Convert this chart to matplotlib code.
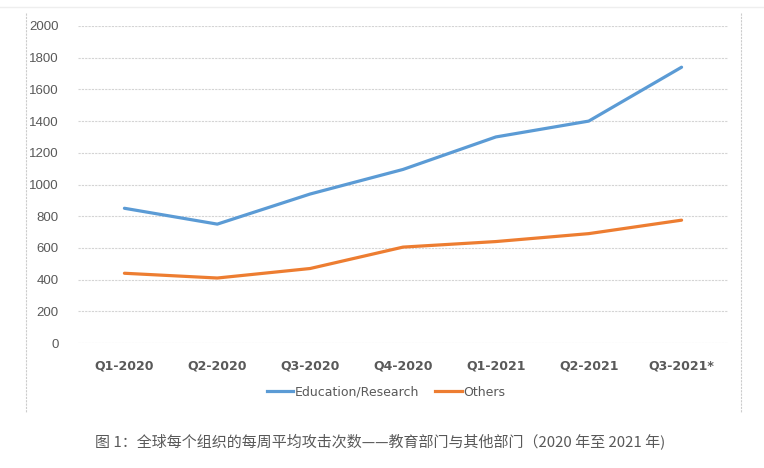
import numpy as np
import matplotlib
matplotlib.use("Agg")
import matplotlib.pyplot as plt
from matplotlib.lines import Line2D

quarters = ["Q1-2020", "Q2-2020", "Q3-2020", "Q4-2020", "Q1-2021", "Q2-2021", "Q3-2021*"]
education = [850, 750, 940, 1095, 1300, 1400, 1740]
others = [440, 410, 470, 605, 640, 690, 775]
yticks = [0, 200, 400, 600, 800, 1000, 1200, 1400, 1600, 1800, 2000]
caption = "图 1：全球每个组织的每周平均攻击次数——教育部门与其他部门（2020 年至 2021 年)"

W, H = 764, 468
fig = plt.figure(figsize=(W / 100, H / 100), dpi=100)
ax = fig.add_axes([78 / W, 1 - 343 / H, (728 - 78) / W, (343 - 26) / H])

x = np.arange(len(quarters))
ax.plot(x, education, color="#5B9BD5", lw=2.3, solid_capstyle="round", label="Education/Research")
ax.plot(x, others, color="#ED7D31", lw=2.3, solid_capstyle="round", label="Others")

ax.set_xlim(-0.5, len(quarters) - 0.5)
ax.set_ylim(0, 2000)
ax.set_yticks(yticks)
ax.set_yticklabels([str(v) for v in yticks], fontsize=9.5, color="#595959", family="Liberation Sans")
ax.set_xticks(x)
ax.set_xticklabels(quarters, fontsize=9, color="#595959", fontweight="bold", family="DejaVu Sans")
ax.tick_params(axis="both", length=0)
ax.tick_params(axis="y", pad=14)
ax.tick_params(axis="x", pad=12)
ax.grid(axis="y", color="#D4D4D4", lw=0.8, ls=(0, (2, 1)))
ax.set_axisbelow(True)
for s in ax.spines.values():
    s.set_visible(False)

leg = fig.legend(handles=[Line2D([], [], color="#5B9BD5", lw=2.3), Line2D([], [], color="#ED7D31", lw=2.3)],
                 labels=["Education/Research", "Others"], loc="center",
                 bbox_to_anchor=(386 / W, 1 - 392 / H), ncol=2, frameon=False,
                 handlelength=2.1, handletextpad=0.15, columnspacing=1.3,
                 prop={"family": "DejaVu Sans", "size": 9})
for t in leg.get_texts():
    t.set_color("#595959")

# frame lines around the chart
fig.add_artist(Line2D([0, 1], [1 - 7 / H] * 2, color="#EEEEEE", lw=1))
for xp in (26, 741):
    fig.add_artist(Line2D([xp / W] * 2, [1 - 13 / H, 1 - 413 / H], color="#CCCCCC", lw=0.8, ls=(0, (2, 1))))

fig.text(380 / W, 1 - 441 / H, caption, ha="center", va="center", fontsize=10.8, color="#595959",
         family=["Noto Sans CJK SC", "DejaVu Sans"])

fig.savefig("out.png", dpi=100)
